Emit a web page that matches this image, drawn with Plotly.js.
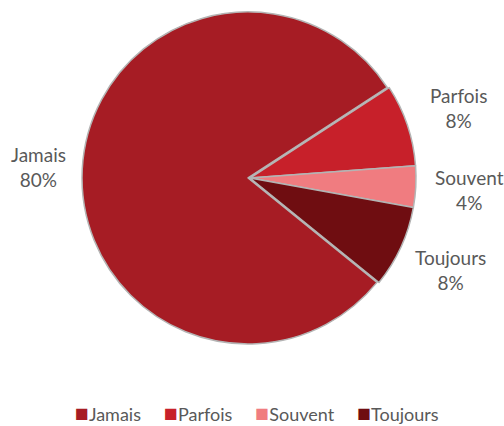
<!DOCTYPE html>
<html><head><meta charset="utf-8">
<script src="https://cdn.plot.ly/plotly-3.0.1.min.js"></script>
<style>html,body{margin:0;padding:0;background:#fff;}#chart{width:504px;height:426px;}</style>
</head><body><div id="chart"></div>
<script>
const categories = ["Jamais", "Parfois", "Souvent", "Toujours"];
const values = [80, 8, 4, 8];
const colors = ["#a61c24", "#c7202a", "#f07c80", "#6f0d11"];

const W = 504, H = 426;
const cx = 250, cy = 178, R = 166;
const rotation = 129;
const pullJ = 0.012;
const fontFam = "Lato, 'Open Sans', sans-serif";

const trace = {
  type: "pie",
  labels: categories,
  values: values,
  sort: false,
  direction: "clockwise",
  rotation: rotation,
  marker: { colors: colors, line: { color: "#b4b4b4", width: 1.5 } },
  pull: [pullJ, 0, 0, 0],
  textinfo: "none",
  hoverinfo: "label+percent",
  domain: {
    x: [(cx - R * (1 + pullJ)) / W, (cx + R * (1 + pullJ)) / W],
    y: [1 - (cy + R * (1 + pullJ)) / H, 1 - (cy - R * (1 + pullJ)) / H]
  }
};

// data labels placed along each slice's mid-angle
const total = values.reduce((a, b) => a + b, 0);
const annotations = [];
let acc = 0;
const labelR = 216;
values.forEach((v, i) => {
  const mid = rotation + 360 * (acc + v / 2) / total; // degrees clockwise from 12 o'clock
  acc += v;
  const a = mid * Math.PI / 180;
  const rr = i === 0 ? labelR - 4 : labelR + 4;
  const px = cx + rr * Math.sin(a);
  const py = cy - rr * Math.cos(a);
  annotations.push({
    xref: "paper", yref: "paper",
    x: px / W, y: 1 - py / H,
    xanchor: "center", yanchor: "middle",
    showarrow: false,
    align: "center",
    text: categories[i] + "<br>" + Math.round(100 * v / total) + "%",
    font: { family: fontFam, size: 19, color: "#595959" }
  });
});

// legend row
const legendText = categories.map((c, i) =>
  "<span style='color:" + colors[i] + ";font-size:23px'>■</span>" + c
).join("\u00a0\u00a0\u00a0\u00a0\u00a0");
annotations.push({
  xref: "paper", yref: "paper",
  x: 257 / W, y: 1 - 412 / H,
  xanchor: "center", yanchor: "middle",
  showarrow: false,
  text: legendText,
  font: { family: fontFam, size: 18, color: "#595959" }
});

const layout = {
  width: W, height: H,
  margin: { l: 0, r: 0, t: 0, b: 0 },
  paper_bgcolor: "#ffffff",
  showlegend: false,
  annotations: annotations
};

Plotly.newPlot("chart", [trace], layout, { displayModeBar: false, staticPlot: true });
</script>
</body></html>
